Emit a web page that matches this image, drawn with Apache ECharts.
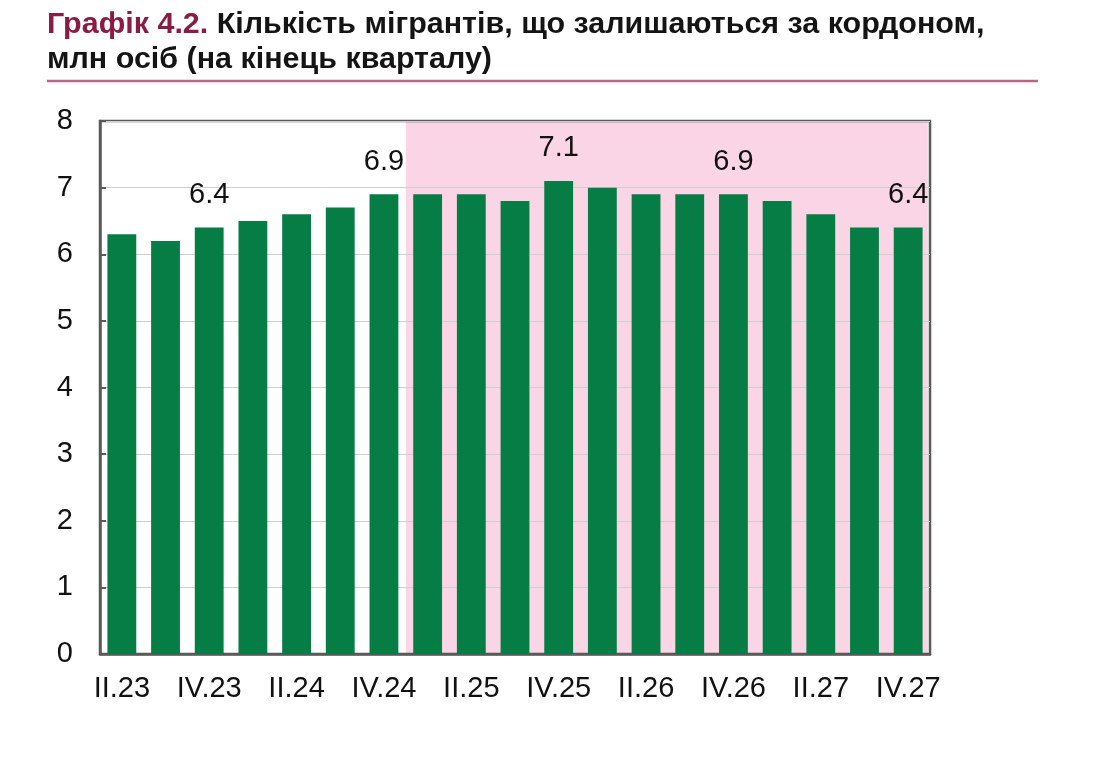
<!DOCTYPE html>
<html><head><meta charset="utf-8">
<script src="https://cdn.jsdelivr.net/npm/echarts@6/dist/echarts.min.js"></script>
<style>html,body{margin:0;padding:0;background:#fff}#c{width:1118px;height:758px}</style>
</head><body><div id="c"></div>
<script>
const categories = ['II.23','III.23','IV.23','I.24','II.24','III.24','IV.24','I.25','II.25','III.25','IV.25','I.26','II.26','III.26','IV.26','I.27','II.27','III.27','IV.27'];
const values = [6.3,6.2,6.4,6.5,6.6,6.7,6.9,6.9,6.9,6.8,7.1,7.0,6.9,6.9,6.9,6.8,6.6,6.4,6.4];
const labeledIdx = [2,6,10,14,18];
const forecastStart = 'I.25';
const titleLine1 = 'Кількість мігрантів, що залишаються за кордоном,';
const titleLine2 = 'млн осіб (на кінець кварталу)';
const titlePrefix = 'Графік 4.2.';

const chart = echarts.init(document.getElementById('c'));
const fsIdx = categories.indexOf(forecastStart);
const font = '"Liberation Sans", Arial, sans-serif';
chart.setOption({
  animation: false,
  grid: {left: 100, top: 121, right: 188, bottom: 104, show: true, z: 1, borderColor: '#5a5a5a', borderWidth: 2.5, containLabel: false},
  graphic: [
    {type: 'text', x: 47, y: 7, scaleX: 1.05, z: 10,
     style: {text: '{a|' + titlePrefix + '} ' + titleLine1 + '\n' + titleLine2,
       font: 'bold 29px ' + font, fill: '#141414', lineHeight: 35,
       rich: {a: {fill: '#8a1c44', font: 'bold 29px ' + font, lineHeight: 35}}}},
    {type: 'line', shape: {x1: 47, y1: 81, x2: 1038, y2: 81}, style: {stroke: '#bf6385', lineWidth: 2.5}}
  ],
  xAxis: [
    {type: 'category', data: categories, boundaryGap: true, z: 1,
     axisLine: {show: true, lineStyle: {color: '#5a5a5a', width: 2.5}},
     axisTick: {show: false},
     axisLabel: {interval: 1, color: '#111', fontSize: 29, fontFamily: font, margin: 20},
     splitLine: {show: false}},
    {type: 'value', min: -0.5, max: 18.5, show: false}
  ],
  yAxis: {type: 'value', min: 0, max: 8, interval: 1, z: 1,
    axisLine: {show: true, onZero: false, lineStyle: {color: '#5a5a5a', width: 2.5}},
    axisTick: {show: true, inside: true, length: 6, lineStyle: {color: '#5a5a5a', width: 2}},
    axisLabel: {color: '#111', fontSize: 29, fontFamily: font, margin: 27},
    splitLine: {show: true, lineStyle: {color: '#cfcfcf', width: 1}}},
  series: [
    {type: 'line', xAxisIndex: 1, data: [], z: -1,
     markArea: {silent: true, z: -1, itemStyle: {color: '#f9d5e5'},
       data: [[{xAxis: fsIdx - 0.5, yAxis: 0}, {xAxis: 18.45, yAxis: 8}]]}},
    {type: 'bar', data: values, barCategoryGap: '34%', z: 2,
     itemStyle: {color: '#077d46'},
     label: {show: true, position: 'top', distance: 18, fontSize: 29, fontFamily: font, color: '#111',
       formatter: p => labeledIdx.includes(p.dataIndex) ? p.value.toFixed(1) : ''}}
  ]
});
</script></body></html>
